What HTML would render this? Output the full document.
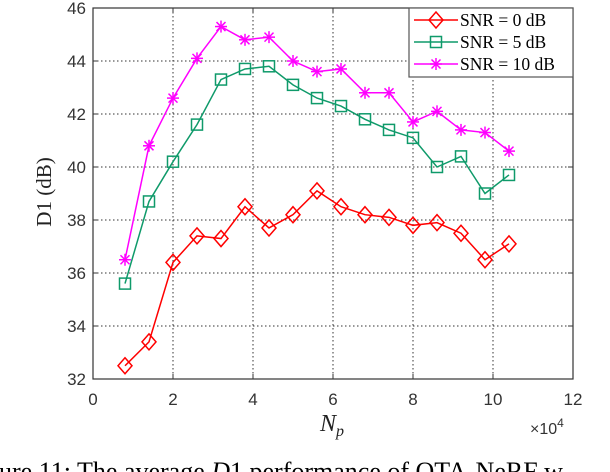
<!DOCTYPE html>
<html><head><meta charset="utf-8"><style>
body{margin:0;background:#fff;width:610px;height:472px;overflow:hidden}
svg{display:block}
text{font-family:"Liberation Sans",sans-serif}
.serif{font-family:"Liberation Serif",serif}
</style></head><body>
<svg id="chart" width="610" height="472" xmlns="http://www.w3.org/2000/svg">
<g id="grid"></g>
<g id="axes"></g>
<g id="series"></g>
<text class="serif" x="0" y="0" font-size="21" text-anchor="middle" transform="translate(51,192) rotate(-90)" fill="#222">D1 (dB)</text>
<text class="serif" x="320" y="431" font-size="24" font-style="italic" fill="#222">N<tspan font-size="16" dy="5">p</tspan></text>
<text x="530" y="434" font-size="16" fill="#333">×10<tspan font-size="12" dy="-7">4</tspan></text>
<g id="legend"></g>
<text class="serif" x="-1" y="480" font-size="26" fill="#000">ure 11: The average <tspan font-style="italic">D</tspan>1 performance of OTA-NeRF w</text>
</svg>
<script>
const xValues=[0.8,1.4,2.0,2.6,3.2,3.8,4.4,5.0,5.6,6.2,6.8,7.4,8.0,8.6,9.2,9.8,10.4];
const snr0=[32.5,33.4,36.4,37.4,37.3,38.5,37.7,38.2,39.1,38.5,38.2,38.1,37.8,37.9,37.5,36.5,37.1];
const snr5=[35.6,38.7,40.2,41.6,43.3,43.7,43.8,43.1,42.6,42.3,41.8,41.4,41.1,40.0,40.4,39.0,39.7];
const snr10=[36.5,40.8,42.6,44.1,45.3,44.8,44.9,44.0,43.6,43.7,42.8,42.8,41.7,42.1,41.4,41.3,40.6];
const xTicks=[0,2,4,6,8,10,12];
const yTicks=[32,34,36,38,40,42,44,46];
const seriesNames=["SNR = 0 dB","SNR = 5 dB","SNR = 10 dB"];
const L=93,R=573,T=8,B=379;
const sx=v=>L+(v-0)/12*(R-L);
const sy=v=>B-(v-32)/14*(B-T);
const NS="http://www.w3.org/2000/svg";
function mk(tag,attrs,parent){const e=document.createElementNS(NS,tag);for(const k in attrs)e.setAttribute(k,attrs[k]);parent.appendChild(e);return e;}
const grid=document.getElementById('grid'),axes=document.getElementById('axes'),ser=document.getElementById('series'),leg=document.getElementById('legend');
mk('rect',{x:L,y:T,width:R-L,height:B-T,fill:'#fff'},grid);
xTicks.forEach(t=>{const x=sx(t);
 const g=mk('line',{x1:x,x2:x,y1:T,y2:B,stroke:'#333','stroke-width':1,'stroke-dasharray':'1.5,2.5'},grid);
 
 const tx=mk('text',{x:x,y:405,'font-size':17,'text-anchor':'middle',fill:'#333'},axes);tx.textContent=t;
 
 mk('line',{x1:x,x2:x,y1:B,y2:B-5,stroke:'#333'},axes);mk('line',{x1:x,x2:x,y1:T,y2:T+5,stroke:'#333'},axes);});
yTicks.forEach(t=>{const y=sy(t);
 const g=mk('line',{x1:L,x2:R,y1:y,y2:y,stroke:'#333','stroke-width':1,'stroke-dasharray':'1.5,2.5'},grid);
 
 const tx=mk('text',{x:86,y:y+6,'font-size':17,'text-anchor':'end',fill:'#333'},axes);tx.textContent=t;
 
 mk('line',{x1:L,x2:L+5,y1:y,y2:y,stroke:'#333'},axes);mk('line',{x1:R,x2:R-5,y1:y,y2:y,stroke:'#333'},axes);});
mk('rect',{x:L,y:T,width:R-L,height:B-T,fill:'none',stroke:'#333','stroke-width':1.2},axes);
function marker(type,x,y,c,p){
 if(type==='d')mk('polygon',{points:`${x},${y-8} ${x+7},${y} ${x},${y+8} ${x-7},${y}`,fill:'none',stroke:c,'stroke-width':1.5},p);
 else if(type==='s')mk('rect',{x:x-5.5,y:y-5.5,width:11,height:11,fill:'none',stroke:c,'stroke-width':1.5},p);
 else{[[0,-6,0,6],[-6,0,6,0],[-4.5,-4.5,4.5,4.5],[-4.5,4.5,4.5,-4.5]].forEach(a=>mk('line',{x1:x+a[0],y1:y+a[1],x2:x+a[2],y2:y+a[3],stroke:c,'stroke-width':1.5},p));}
}
const defs=[[snr0,'#ff0000','d','series-snr-0'],[snr5,'#0f9a6a','s','series-snr-5'],[snr10,'#ff00ff','a','series-snr-10']];
defs.forEach(([vals,c,m,name])=>{
 const g=mk('g',{},ser);
 mk('polyline',{points:vals.map((v,i)=>sx(xValues[i])+','+sy(v)).join(' '),fill:'none',stroke:c,'stroke-width':1.5},g);
 vals.forEach((v,i)=>marker(m,sx(xValues[i]),sy(v),c,g));
});
mk('rect',{x:409,y:8,width:164,height:69,fill:'#fff',stroke:'#555','stroke-width':1.2},leg);
defs.forEach(([vals,c,m,name],i)=>{
 const y=20+i*22;
 const g=mk('g',{},leg);
 mk('line',{x1:414,x2:458,y1:y,y2:y,stroke:c,'stroke-width':1.5},g);marker(m,436,y,c,g);
 const t=mk('text',{x:460,y:y+6,'font-size':17.5,fill:'#000',class:'serif'},g);t.textContent=seriesNames[i];
});
</script>
</body></html>
